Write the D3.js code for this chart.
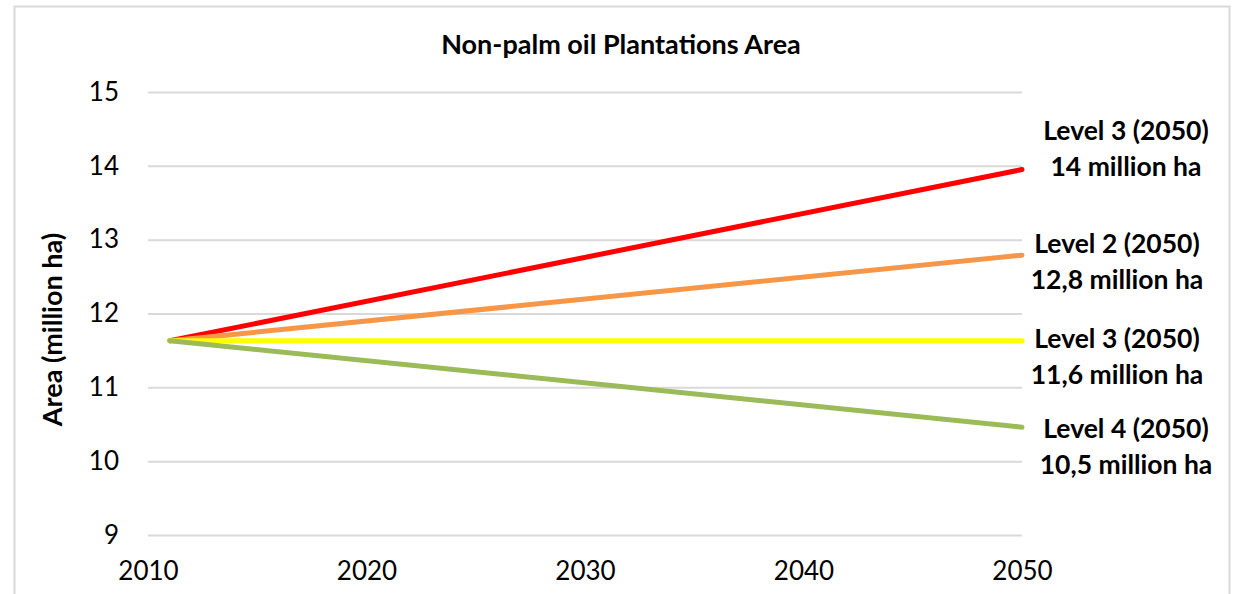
<!DOCTYPE html>
<html>
<head>
<meta charset="utf-8">
<script src="https://cdn.jsdelivr.net/npm/d3@7"></script>
<style>
  html, body { margin: 0; padding: 0; background: #fff; }
  svg { display: block; font-family: Lato, "Open Sans", sans-serif; }
</style>
</head>
<body>
<svg id="chart" width="1234" height="594"></svg>
<script>
// Scenario series: area of non-palm oil plantations (million ha)
const years = [2011, 2050];
const seriesNames = ["Level 3", "Level 2", "Level 3 flat", "Level 4"];
const level3 = [11.63, 13.95];
const level2 = [11.63, 12.79];
const level3Flat = [11.63, 11.63];
const level4 = [11.63, 10.46];
const endLabels = [
  ["Level 3 (2050)", "14 million ha"],
  ["Level 2 (2050)", "12,8 million ha"],
  ["Level 3 (2050)", "11,6 million ha"],
  ["Level 4 (2050)", "10,5 million ha"]
];
const xTicks = [2010, 2020, 2030, 2040, 2050];
const yTicks = [9, 10, 11, 12, 13, 14, 15];

const colors = ["#FF0000", "#F79646", "#FFFF00", "#9BBB59"];
// label block offsets from each line's end point: [dx of text centre, dy of first line]
const labelOffsets = [[104, -40], [95, -12], [95, -3], [104, 1]];

const allSeries = [level3, level2, level3Flat, level4];

const svg = d3.select("#chart");
const W = 1234, H = 594;
const margin = { left: 148, right: W - 1022, top: 92, bottom: H - 535 };

// outer frame
svg.append("rect")
  .attr("x", 14.5).attr("y", 6.5)
  .attr("width", 1229 - 14).attr("height", 620)
  .attr("fill", "#fff").attr("stroke", "#d9d9d9").attr("stroke-width", 2);

const x = d3.scaleLinear().domain([2010, 2050]).range([margin.left, W - margin.right]);
const y = d3.scaleLinear().domain([9, 15]).range([H - margin.bottom, margin.top]);

// horizontal gridlines via the y axis
const yAxis = svg.append("g")
  .attr("transform", `translate(${margin.left},0)`)
  .call(d3.axisLeft(y).tickValues(yTicks).tickSize(-(x(2050) - x(2010))).tickPadding(29).tickFormat(d3.format("d")));
yAxis.select(".domain").remove();
yAxis.selectAll(".tick line").attr("stroke", "#d9d9d9").attr("stroke-width", 2);
yAxis.selectAll(".tick text")
  .attr("fill", "#000").attr("font-size", 26).attr("font-family", "Lato, sans-serif");

const xAxis = svg.append("g")
  .attr("transform", `translate(0,${y(9)})`)
  .call(d3.axisBottom(x).tickValues(xTicks).tickSize(0).tickPadding(37).tickFormat(d3.format("d")));
xAxis.select(".domain").remove();
xAxis.selectAll(".tick text")
  .attr("fill", "#000").attr("font-size", 26).attr("font-family", "Lato, sans-serif")
  .attr("dy", "0.3em");

// title
svg.append("text")
  .attr("x", 621).attr("y", 54)
  .attr("text-anchor", "middle")
  .attr("font-weight", "bold").attr("font-size", 27)
  .text("Non-palm oil Plantations Area");

// y axis title
svg.append("text")
  .attr("transform", `translate(51,${(y(9) + y(15)) / 2 + 16}) rotate(-90)`)
  .attr("text-anchor", "middle")
  .attr("dominant-baseline", "central")
  .attr("font-weight", "bold").attr("font-size", 27)
  .text("Area (million ha)");

// scenario lines
const line = d3.line().x((d, i) => x(years[i])).y(d => y(d));
svg.append("g").selectAll("path")
  .data(allSeries)
  .join("path")
  .attr("d", d => line(d))
  .attr("fill", "none")
  .attr("stroke", (d, i) => colors[i])
  .attr("stroke-width", 5)
  .attr("stroke-linecap", "round");

// end-of-line labels
const lab = svg.append("g").selectAll("text")
  .data(allSeries)
  .join("text")
  .attr("text-anchor", "middle")
  .attr("font-weight", "bold").attr("font-size", 26.5)
  .attr("fill", "#000");
lab.each(function (d, i) {
  const px = x(years[1]) + labelOffsets[i][0];
  const py = y(d[1]) + labelOffsets[i][1];
  const t = d3.select(this);
  endLabels[i].forEach((s, k) => {
    t.append("tspan").attr("x", px).attr("y", py + k * 36).attr("dominant-baseline", "central").text(s);
  });
});
</script>
</body>
</html>
